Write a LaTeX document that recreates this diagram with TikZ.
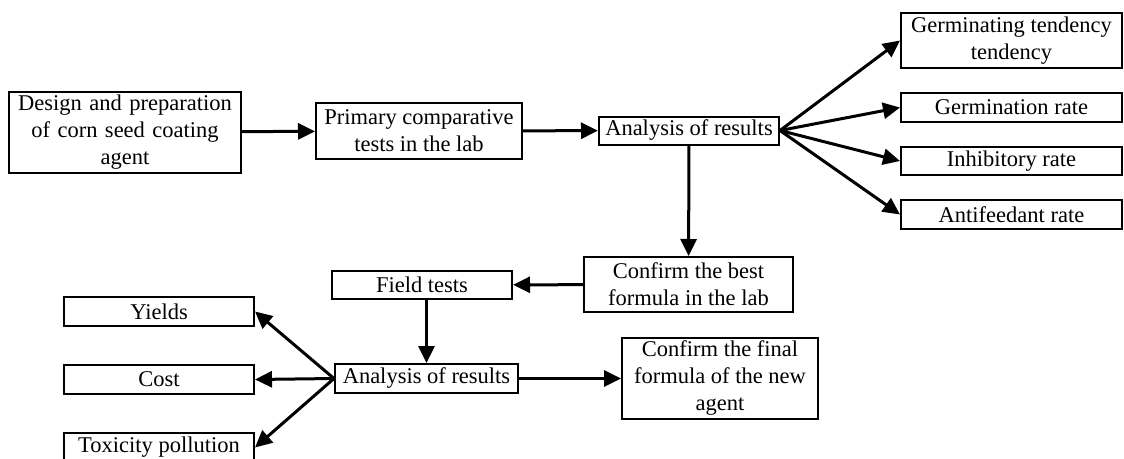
\documentclass[tikz,border=0pt]{standalone}
\usepackage{fontspec}
\setmainfont{Liberation Serif}
\usepackage{tikz}
\usetikzlibrary{positioning,calc,arrows.meta}

\begin{document}
\begin{tikzpicture}[x=1pt,y=-1pt,
    box/.style={draw, line width=2pt, align=center, inner sep=1pt,
        font=\fontsize{22.5}{27}\selectfont},
    flow/.style={line width=3pt, -{Triangle[length=17pt,width=16pt]}}]
    \useasboundingbox (0,0) rectangle (1124,458);

    % lab stage
    \node[box, minimum width=232pt, minimum height=81pt, text width=226pt] (design) at (125,132) {Design and preparation\\of corn seed coating\\agent};
    \node[box, minimum width=206pt, minimum height=56pt] (primary) at (419,131) {Primary comparative\\tests in the lab};
    \node[box, minimum width=180pt, minimum height=28pt] (resultsA) at (689,130.5) {Analysis of results};

    % lab indexes
    \node[box, minimum width=221pt, minimum height=55pt] (tendency) at (1011.5,40.5) {Germinating tendency\\tendency};
    \node[box, minimum width=221pt, minimum height=29pt] (germrate) at (1011.5,107.5) {Germination rate};
    \node[box, minimum width=221pt, minimum height=28pt] (inhibit) at (1011.5,161) {Inhibitory rate};
    \node[box, minimum width=221pt, minimum height=29pt] (antifeed) at (1011.5,214.5) {Antifeedant rate};

    % field stage
    \node[box, minimum width=209pt, minimum height=55pt] (best) at (688.5,284.5) {Confirm the best\\formula in the lab};
    \node[box, minimum width=180pt, minimum height=28pt] (field) at (422,285) {Field tests};
    \node[box, minimum width=183pt, minimum height=29pt] (resultsB) at (426.5,378.5) {Analysis of results};
    \node[box, minimum width=196pt, minimum height=81pt] (final) at (720,378.5) {Confirm the final\\formula of the new\\agent};

    % field indexes
    \node[box, minimum width=190pt, minimum height=29pt] (yields) at (159,311.5) {Yields};
    \node[box, minimum width=190pt, minimum height=29pt] (cost) at (159,379.5) {Cost};
    \node[box, minimum width=190pt, minimum height=29pt] (toxic) at (159,447.5) {Toxicity pollution};

    \draw[flow] (design) -- (primary);
    \draw[flow] (primary) -- (resultsA);
    \foreach \n in {tendency,germrate,inhibit,antifeed}
        \draw[flow] (resultsA.east) -- (\n.west);
    \draw[flow] (resultsA) -- (best);
    \draw[flow] (best) -- (field);
    \draw[flow] (resultsB.north |- field.south) -- (resultsB.north);
    \draw[flow] (resultsB) -- (final);
    \foreach \n in {yields,cost,toxic}
        \draw[flow] (resultsB.west) -- (\n.east);
\end{tikzpicture}
\end{document}
